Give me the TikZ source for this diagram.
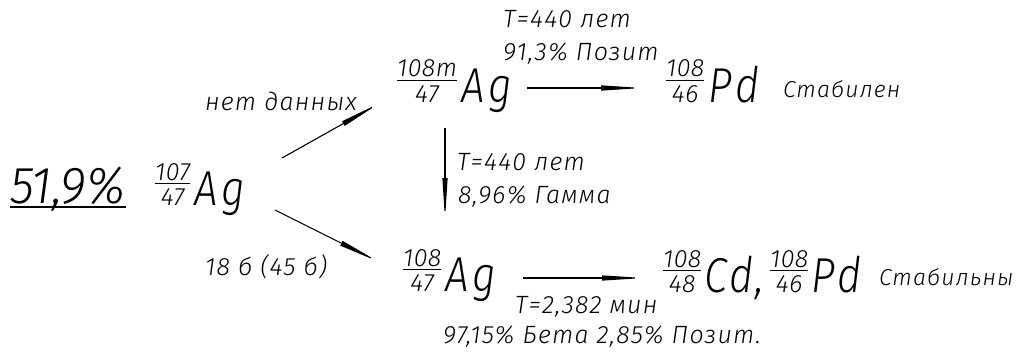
\documentclass[tikz,border=0pt]{standalone}
\usepackage{fontspec}
\setmainfont{Liberation Sans}
\newfontfamily\gost[UprightFont=* Light, ItalicFont=* Light Italic, LetterSpace=5]{Fira Sans}
\newfontfamily\gostf[UprightFont=* Light, ItalicFont=* Light Italic, LetterSpace=2]{Fira Sans}
\newfontfamily\gostb[UprightFont=* Light, ItalicFont=* Light Italic, FakeStretch=0.85, LetterSpace=4]{Fira Sans}
\newfontfamily\gostn[UprightFont=* Light, ItalicFont=* Light Italic, FakeStretch=0.95]{Fira Sans}
\usetikzlibrary{arrows.meta}
\newcommand\nfrac[2]{{\gostf\itshape\fontsize{25}{25}\selectfont
  \setlength\tabcolsep{0pt}\setlength\arrayrulewidth{1pt}\renewcommand\arraystretch{0}%
  \begin{tabular}[b]{c}\rule[-3pt]{0pt}{18pt}#1\\\hline\rule{0pt}{21pt}#2\end{tabular}}}
\tikzset{
  lbl/.style={anchor=base west, inner sep=0pt, outer sep=0pt, font=\gost\itshape\fontsize{25}{27}\selectfont},
  stab/.style={anchor=base west, inner sep=0pt, outer sep=0pt, font=\gost\itshape\fontsize{23}{25}\selectfont},
  nucl/.style={anchor=base west, inner sep=0pt, outer sep=0pt, font=\gostb\itshape\fontsize{49}{51}\selectfont},
  arr/.style={line width=1.1pt, -{Triangle[length=42pt,width=5pt]}}
}
\begin{document}
\begin{tikzpicture}[x=1pt,y=-1pt]
\useasboundingbox (0,0) rectangle (1017,353);
% abundance
\node[anchor=base west, inner sep=0pt, font=\gostn\itshape\fontsize{52}{54}\selectfont] (pct) at (10,203) {51,9\%};
\draw[line width=1.1pt] ([yshift=-4pt]pct.base west) -- ([yshift=-4pt]pct.base east);
% nuclides
\node[nucl] (ag107) at (155,205) {\nfrac{107}{47}\kern4pt A\kern4pt g};
\node[nucl] (ag108m) at (397,102) {\nfrac{108m}{47}\kern4pt A\kern4pt g};
\node[nucl] (pd108a) at (666,102) {\nfrac{108}{46}\kern4pt P\kern4pt d};
\node[stab] (stab1) at (783,97) {Стабилен};
\node[nucl] (ag108) at (403,291) {\nfrac{108}{47}\kern4pt A\kern4pt g};
\node[nucl] (cd108) at (663,292) {\nfrac{108}{48}\kern3pt C\kern2pt d,};
\node[nucl] (pd108b) at (770,292) {\nfrac{108}{46}\kern3pt P\kern3pt d};
\node[stab] (stab2) at (879,285) {Стабильны};
% labels
\node[lbl] (l1a) at (503,28) {T=440 лет};
\node[lbl] (l1b) at (503,60) {91,3\% Позит};
\node[lbl] (l2) at (205,110) {нет данных};
\node[lbl] (l3) at (205,275) {18 б (45 б)};
\node[lbl] (l4a) at (457,170) {T=440 лет};
\node[lbl] (l4b) at (458,203) {8,96\% Гамма};
\node[lbl] (l5a) at (515,313) {T=2,382 мин};
\node[lbl] (l5b) at (443,343) {97,15\% Бета 2,85\% Позит.};
% connector ends
\coordinate (a1s) at (282,158); \coordinate (a1e) at (380,103);
\coordinate (a2s) at (275,210); \coordinate (a2e) at (379,262);
\coordinate (a3s) at (527,88);  \coordinate (a3e) at (643,88);
\coordinate (a4s) at (445,128); \coordinate (a4e) at (445,220);
\coordinate (a5s) at (523,278); \coordinate (a5e) at (644,278);
\draw[arr] (a1s) -- (a1e);
\draw[arr] (a2s) -- (a2e);
\draw[arr] (a3s) -- (a3e);
\draw[arr] (a4s) -- (a4e);
\draw[arr] (a5s) -- (a5e);
\end{tikzpicture}
\end{document}
